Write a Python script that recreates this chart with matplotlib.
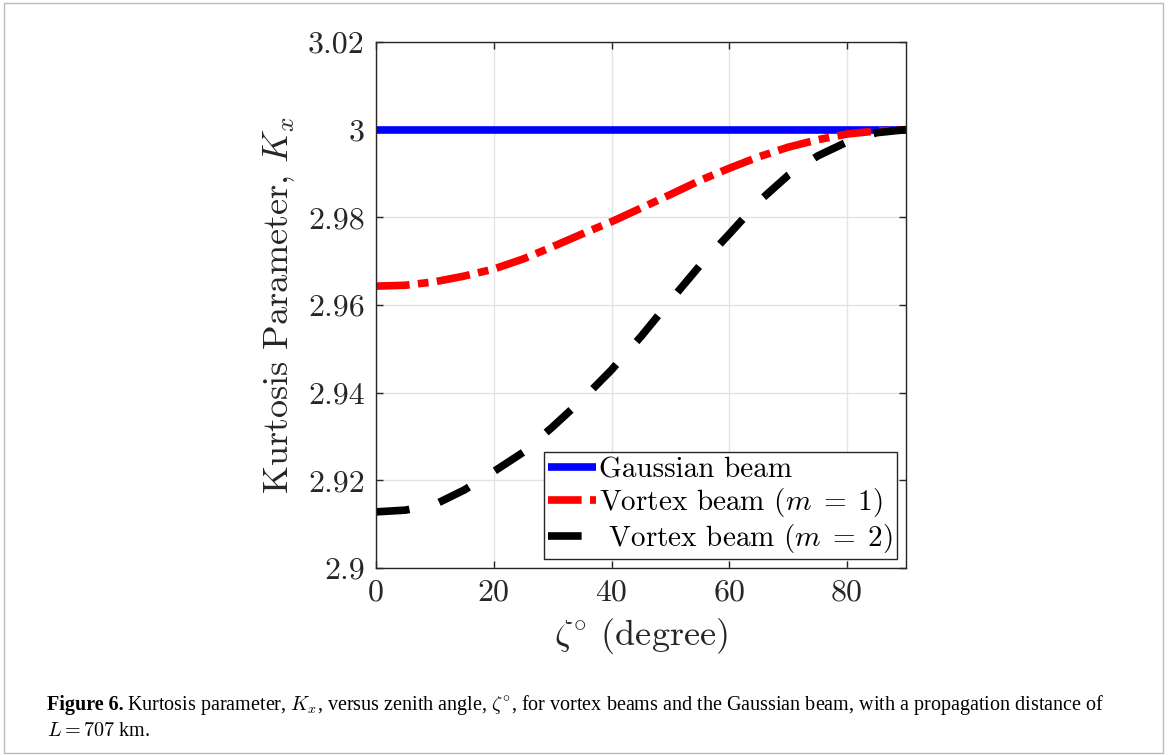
import matplotlib
matplotlib.use("Agg")
import matplotlib.pyplot as plt
from matplotlib.patches import Rectangle

plt.rcParams['mathtext.fontset'] = 'cm'
plt.rcParams['font.family'] = ['cmr10', 'DejaVu Serif']
plt.rcParams['axes.formatter.use_mathtext'] = True

zenith = [0, 5, 10, 15, 20, 25, 30, 35, 40, 45, 50, 55, 60, 65, 70, 75, 80, 85, 90]
gaussian = [3.0] * len(zenith)
vortex_m1 = [2.9643, 2.9645, 2.9653, 2.9666, 2.9682, 2.9705, 2.9733, 2.9762, 2.9790,
             2.9821, 2.9852, 2.9884, 2.9912, 2.9938, 2.9960, 2.9977, 2.9990, 2.9997, 3.0]
vortex_m2 = [2.9128, 2.9132, 2.9145, 2.9178, 2.9220, 2.9264, 2.9322, 2.9384, 2.9452,
             2.9528, 2.9610, 2.9690, 2.9762, 2.9836, 2.9896, 2.9940, 2.9972, 2.9993, 3.0]
xticks = [0, 20, 40, 60, 80]
yticks = [2.9, 2.92, 2.94, 2.96, 2.98, 3.0, 3.02]
ytick_labels = ['2.9', '2.92', '2.94', '2.96', '2.98', '3', '3.02']

fig = plt.figure(figsize=(11.68, 7.55), dpi=100)
fig.patches.append(Rectangle((0.003, 0.003), 0.993, 0.993, transform=fig.transFigure,
                             fill=False, edgecolor='#bbbbbb', linewidth=1))
ax = fig.add_axes([0.3219, 0.2477, 0.4538, 0.6967])

lw = 5.5
ax.plot(zenith, gaussian, color='#0000ff', lw=lw, solid_capstyle='butt', label='Gaussian beam')
ax.plot(zenith, vortex_m1, color='#ff0000', lw=lw, dashes=(4.4, 1.1, 1.4, 1.1),
        label=r'Vortex beam $(m\;=\;1)$')
ax.plot(zenith, vortex_m2, color='black', lw=lw, dashes=(4.4, 4.0),
        label=r' Vortex beam $(m\;=\;2)$')

ax.set_xlim(0, 90)
ax.set_ylim(2.9, 3.02)
ax.set_xticks(xticks)
ax.set_xticklabels([str(t) for t in xticks])
ax.set_yticks(yticks)
ax.set_yticklabels(ytick_labels)
ax.grid(True, color='#e3e3e3', linewidth=1)
ax.set_axisbelow(True)
ax.tick_params(direction='in', length=5, width=1, top=True, right=True,
               labelsize=23, colors='#262626', pad=8)
for s in ax.spines.values():
    s.set_color('#262626')
    s.set_linewidth(1)

ax.set_xlabel(r'$\zeta^{\circ}$ (degree)', fontsize=26, color='#262626', labelpad=7)
ax.set_ylabel(r'Kurtosis Parameter, $K_x$', fontsize=26, color='#262626', labelpad=8)

leg = ax.legend(loc='lower right', fontsize=21, frameon=True, fancybox=False,
                edgecolor='#262626', framealpha=1, handlelength=1.65, handletextpad=0.1,
                borderpad=0.15, labelspacing=0.1, borderaxespad=0.3)
leg.get_frame().set_linewidth(1)

fs_cap = 14.5
t1 = fig.text(0.040, 0.060, 'Figure 6.', fontsize=fs_cap, fontweight='bold',
              family='Liberation Serif', ha='left', va='baseline')
renderer = fig.canvas.get_renderer()
bb = t1.get_window_extent(renderer=renderer)
x2 = (bb.x1 + 4) / fig.bbox.width
fig.text(x2, 0.060,
         r'Kurtosis parameter, $K_x$, versus zenith angle, $\zeta^{\circ}$, for vortex beams and the '
         r'Gaussian beam, with a propagation distance of',
         fontsize=fs_cap, family='Liberation Serif', ha='left', va='baseline')
fig.text(0.040, 0.025, r'$L = 707$ km.', fontsize=fs_cap, family='Liberation Serif',
         ha='left', va='baseline')

fig.savefig('out.png', dpi=100)
